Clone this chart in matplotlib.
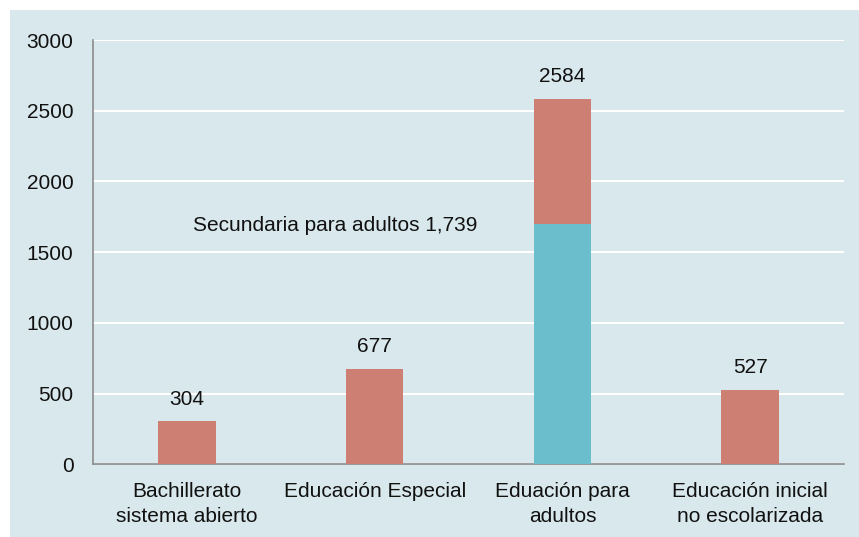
import matplotlib
matplotlib.use("Agg")
import matplotlib.pyplot as plt
from matplotlib.patches import Rectangle

categories = ["Bachillerato\nsistema abierto", "Educación Especial", "Eduación para\nadultos", "Educación inicial\nno escolarizada"]
secundaria = [0, 0, 1702, 0]
totals = [304, 677, 2584, 527]
rest = [t - s for t, s in zip(totals, secundaria)]
yticks = [0, 500, 1000, 1500, 2000, 2500, 3000]
annotation = "Secundaria para adultos 1,739"

plt.rcParams['font.family'] = ['Liberation Sans', 'DejaVu Sans']
FS = 15

W, H = 859, 537
fig = plt.figure(figsize=(W/100, H/100), dpi=100)
fig.patch.set_facecolor('white')
bg = '#D9E8EC'
fig.patches.append(Rectangle((10/W, 0), 1 - 10/W, 1 - 10/H, transform=fig.transFigure,
                             facecolor=bg, edgecolor='none', zorder=-10))

ax = fig.add_axes([93/W, (H-464.3)/H, (844-93)/W, (464.3-40)/H])
ax.set_facecolor(bg)
x = list(range(len(categories)))
red = '#CC7F72'
teal = '#6BBFCC'
ax.bar(x, secundaria, width=0.305, color=teal, zorder=3)
ax.bar(x, rest, bottom=secundaria, width=0.305, color=red, zorder=3)
for xi, t in zip(x, totals):
    ax.annotate(str(t), (xi, t), xytext=(0, 16), textcoords='offset points',
                ha='center', va='center', fontsize=FS, color='#111111')
ax.text(0.79, 1685, annotation, ha='center', va='center', fontsize=FS, color='#111111')

ax.set_xlim(-0.5, 3.5)
ax.set_ylim(0, 3000)
ax.set_yticks(yticks)
ax.set_xticks(x)
ax.set_xticklabels(categories, fontsize=FS, color='#111111', linespacing=1.4)
ax.tick_params(axis='y', labelsize=FS, length=0, pad=14, labelcolor='#111111')
ax.tick_params(axis='x', length=0, pad=13)
ax.yaxis.grid(True, color='white', linewidth=1.5, zorder=0)
ax.set_axisbelow(True)
for s in ['top', 'right']:
    ax.spines[s].set_visible(False)
for s in ['left', 'bottom']:
    ax.spines[s].set_color('#8C8C8C')
    ax.spines[s].set_linewidth(1.2)

fig.savefig('out.png', dpi=100, facecolor='white')
